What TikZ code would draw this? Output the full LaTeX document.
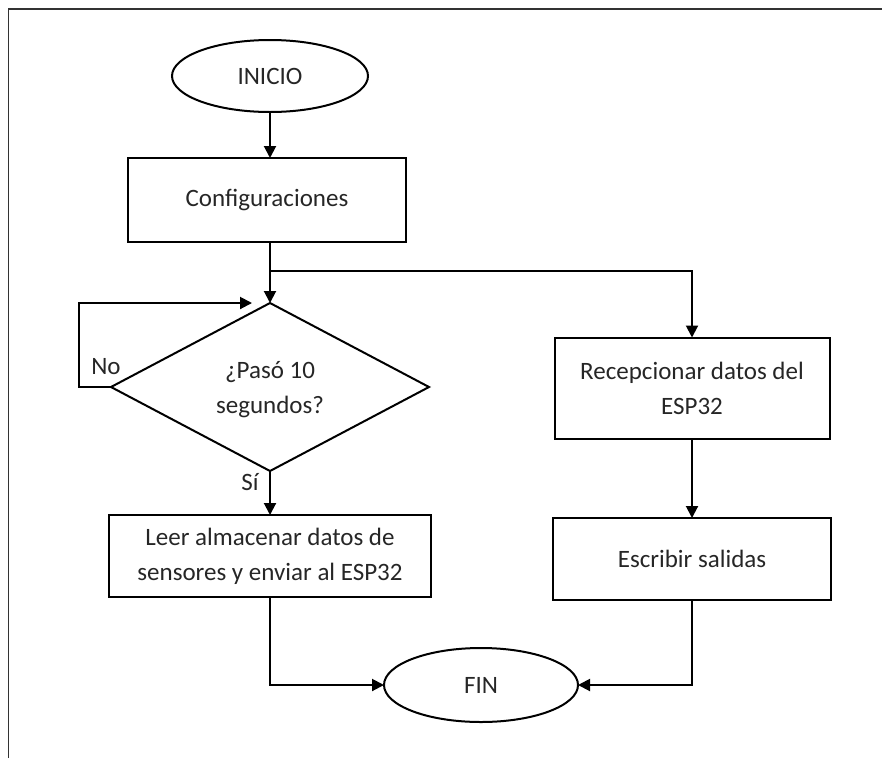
\documentclass[tikz,border=0pt]{standalone}
\usepackage{fontspec}
\setmainfont{Carlito}
\usetikzlibrary{shapes.geometric,arrows.meta,calc}

\tikzset{
  base/.style={draw=black, line width=2pt, outer sep=0pt, inner sep=0pt,
               font=\fontsize{25}{35}\selectfont, text=black!85, align=center},
  terminal/.style={base, ellipse},
  procbox/.style={base, rectangle},
  decision/.style={base, diamond},
  conn/.style={line width=2pt, draw=black},
  arr/.style={conn, -{Triangle[length=12pt,width=12pt]}},
  lbl/.style={font=\fontsize{25}{28}\selectfont, text=black!85}
}

\begin{document}
\begin{tikzpicture}[x=1pt, y=-1pt]
  \useasboundingbox (0,0) rectangle (882,758);

  % page frame (top and left edges)
  \draw[line width=1.4pt, black!80] (8.5,758) -- (8.5,9) -- (882,9);

  % nodes
  \node[terminal, minimum width=196pt, minimum height=72pt] (inicio) at (270,76) {INICIO};
  \node[procbox, minimum width=278pt, minimum height=84pt] (config) at (267,200) {Configuraciones};
  \node[decision, minimum width=318pt, minimum height=168pt] (dec) at (270,387) {};
  \node[base, draw=none] (dectext) at (270,390) {¿Pasó 10\\segundos?};
  \node[procbox, minimum width=322pt, minimum height=82pt] (leer) at (270,556)
       {Leer almacenar datos de\\sensores y enviar al ESP32};
  \node[procbox, minimum width=275pt, minimum height=101pt] (recep) at (692,388)
       {Recepcionar datos del\\ESP32};
  \node[procbox, minimum width=278pt, minimum height=82pt] (escr) at (692,559)
       {Escribir salidas};
  \node[terminal, minimum width=194pt, minimum height=74pt] (fin) at (481,685) {FIN};

  % labels on the decision outputs
  \node[lbl] (no) at (106,367) {No};
  \node[lbl] (si) at (250,482) {Sí};

  % connectors
  \coordinate (split) at ($(dec.north)+(0,-32)$);
  \coordinate (loopend) at ($(dec.north)+(-18,0)$);
  \coordinate (loopleft) at ($(dec.west)+(-32,0)$);

  \draw[arr] (inicio.south) -- (inicio.south |- config.north);
  \draw[conn] (split |- config.south) -- (split);
  \draw[arr] (split) -- (dec.north);
  \draw[arr] (split) -| (recep.north);
  \draw[arr] (dec.west) -- (loopleft) |- (loopend);
  \draw[arr] (dec.south) -- (dec.south |- leer.north);
  \draw[arr] (recep.south) -- (escr.north);
  \draw[arr] (leer.south) |- (fin.west);
  \draw[arr] (escr.south) |- (fin.east);
\end{tikzpicture}
\end{document}
